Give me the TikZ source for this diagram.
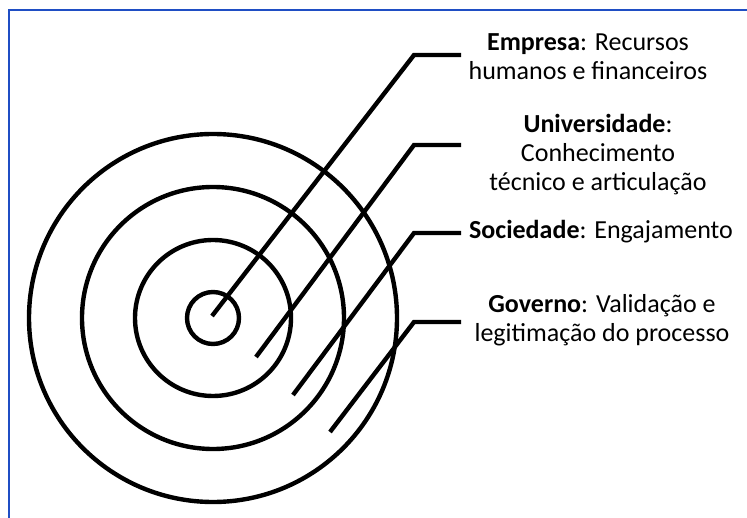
\documentclass[tikz,border=0pt]{standalone}
\usepackage{fontspec}
\setmainfont{Carlito}
\definecolor{frameblue}{RGB}{31,78,196}
\begin{document}
\begin{tikzpicture}[x=1pt,y=-1pt,
  ring/.style={draw=black,line width=4.4pt,circle,minimum size=#1,inner sep=0pt},
  leader/.style={draw=black,line width=4.4pt},
  label/.style={align=center,font=\fontsize{26}{29}\selectfont,inner sep=0pt}]
\useasboundingbox (0,0) rectangle (747,518);
\draw[frameblue,line width=2pt] (9,518) -- (9,10) -- (747,10);
\coordinate (ctr) at (213,318);
\node[ring=52pt] (c1) at (ctr) {};
\node[ring=156pt] (c2) at (ctr) {};
\node[ring=262pt] (c3) at (ctr) {};
\node[ring=368pt] (c4) at (ctr) {};
% leader coordinates
\coordinate (s1) at (212,316);
\coordinate (b1) at (414,55);
\coordinate (e1) at (461,55);
\coordinate (s2) at (256,357);
\coordinate (b2) at (414,145);
\coordinate (e2) at (461,145);
\coordinate (s3) at (293,395);
\coordinate (b3) at (414,233);
\coordinate (e3) at (461,233);
\coordinate (s4) at (330,432);
\coordinate (b4) at (414,322);
\coordinate (e4) at (461,322);
\draw[leader] (s1) -- (b1) -- (e1);
\draw[leader] (s2) -- (b2) -- (e2);
\draw[leader] (s3) -- (b3) -- (e3);
\draw[leader] (s4) -- (b4) -- (e4);
% labels
\node[label] (t1) at (588,57) {\textbf{Empresa}: Recursos\\humanos e financeiros};
\node[label] (t2) at (598,155) {\textbf{Universidade}:\\Conhecimento\\técnico e articulação};
\node[label] (t3) at (601,232) {\textbf{Sociedade}: Engajamento};
\node[label] (t4) at (602,320) {\textbf{Governo}: Validação e\\legitimação do processo};
\end{tikzpicture}
\end{document}
